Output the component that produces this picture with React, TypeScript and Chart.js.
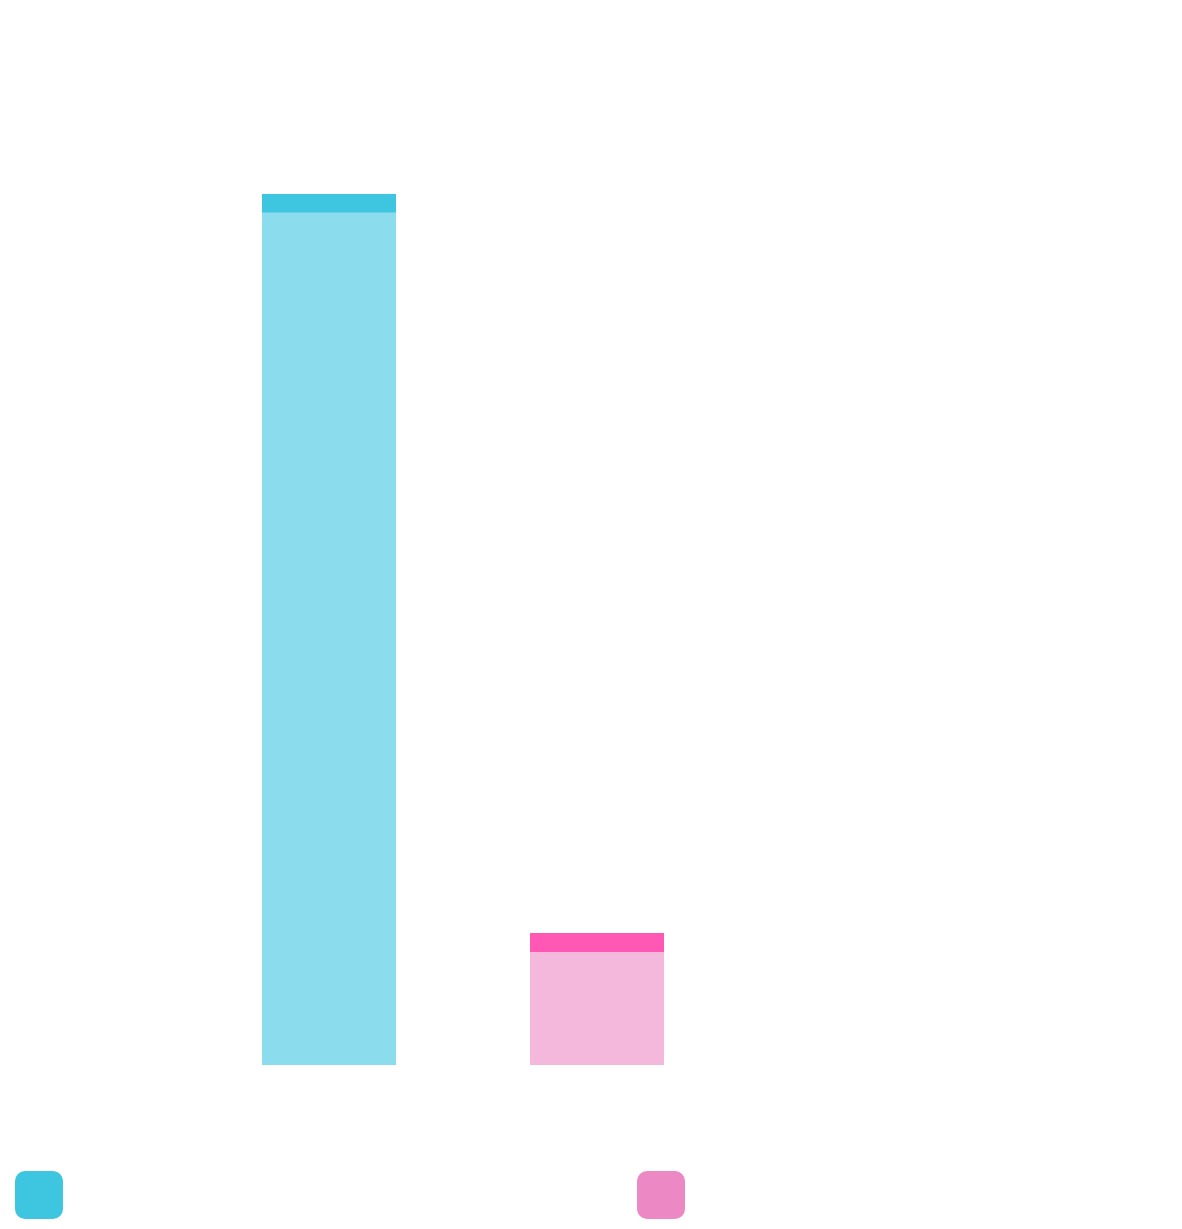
import React, { useEffect, useRef } from 'react';
import { Chart, ChartConfiguration, registerables } from 'chart.js';

Chart.register(...registerables);

// data (no visible text in the reference)
const categories = ['Series A', 'Series B'];
const values = [33, 5];
const legendColors = ['#3EC5E0', '#EC88C4'];
const fillColors = ['rgba(62, 197, 224, 0.6)', 'rgba(236, 136, 196, 0.6)'];
const topColors = ['#3EC5E0', '#FF57B4'];
const yMax = 40;

const BarChart: React.FC = () => {
    const chartRef = useRef<HTMLCanvasElement>(null);
    const chartInstanceRef = useRef<Chart | null>(null);

    useEffect(() => {
        const canvas = chartRef.current;
        if (!canvas) return;

        const config: ChartConfiguration<'bar'> = {
            type: 'bar',
            data: {
                labels: categories,
                datasets: [
                    {
                        data: values,
                        backgroundColor: fillColors,
                        borderColor: topColors,
                        borderWidth: { top: 19, left: 0, right: 0, bottom: 0 },
                        borderSkipped: 'start',
                        categoryPercentage: 0.5,
                        barPercentage: 1.0,
                    },
                ],
            },
            options: {
                animation: false,
                responsive: true,
                maintainAspectRatio: false,
                events: [],
                layout: {
                    padding: { left: 195, right: 451, top: 9, bottom: 164 },
                },
                plugins: {
                    legend: { display: false },
                    tooltip: { enabled: false },
                },
                scales: {
                    x: { display: false },
                    y: { display: false, beginAtZero: true, min: 0, max: yMax },
                },
            },
        };

        if (chartInstanceRef.current) {
            chartInstanceRef.current.destroy();
        }
        chartInstanceRef.current = new Chart(canvas, config);

        return () => {
            if (chartInstanceRef.current) {
                chartInstanceRef.current.destroy();
                chartInstanceRef.current = null;
            }
        };
    }, []);

    return (
        <div style={{ position: 'relative', width: '1182px', height: '1229px', margin: '-8px' }}>
            <canvas ref={chartRef} />
            {/* html legend, one swatch per category */}
            <div
                style={{
                    position: 'absolute',
                    left: '15px',
                    top: '1171px',
                    display: 'grid',
                    gridTemplateColumns: '622px 622px',
                }}
            >
                {categories.map((name, i) => (
                    <div
                        key={name}
                        title={name}
                        style={{
                            width: '48px',
                            height: '48px',
                            borderRadius: '10px',
                            background: legendColors[i],
                        }}
                    />
                ))}
            </div>
        </div>
    );
};

export default function App() {
    return <BarChart />;
}
